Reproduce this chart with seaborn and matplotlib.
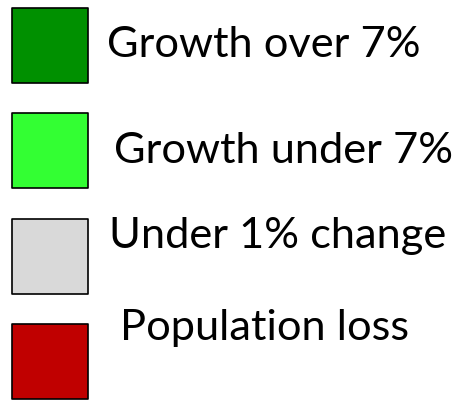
import numpy as np
import pandas as pd
import seaborn as sns
import matplotlib.pyplot as plt

# legend entries
labels = ["Growth over 7%", "Growth under 7%", "Under 1% change", "Population loss"]
colors = ["#009000", "#33ff33", "#d9d9d9", "#c00000"]

# layout (pixels)
W, H = 464, 403
row_px = [45.5, 150.0, 256.0, 361.5]
text_x = [107, 114, 109, 120]
text_base = [57, 163, 248, 340]

sns.set_theme(style="white")
plt.rcParams["font.family"] = ["Lato", "DejaVu Sans"]

df = pd.DataFrame({"label": labels, "x": 50.0})

fig = plt.figure(figsize=(W / 100, H / 100), dpi=100)
ax = fig.add_axes([0, 0, 1, 1])
sns.scatterplot(data=df, x="x", y="label", hue="label", palette=colors,
                marker="s", s=2916, edgecolor="black", linewidth=1.2,
                legend=False, ax=ax)

step = (row_px[-1] - row_px[0]) / 3
ax.set_xlim(0, W)
ax.set_ylim(3 + (H - row_px[-1]) / step, -row_px[0] / step)
ax.axis("off")

for lab, tx, tb in zip(labels, text_x, text_base):
    fig.text(tx / W, 1 - tb / H, lab, fontsize=31.2, va="baseline", ha="left", color="black")

fig.savefig("out.png", dpi=100)
